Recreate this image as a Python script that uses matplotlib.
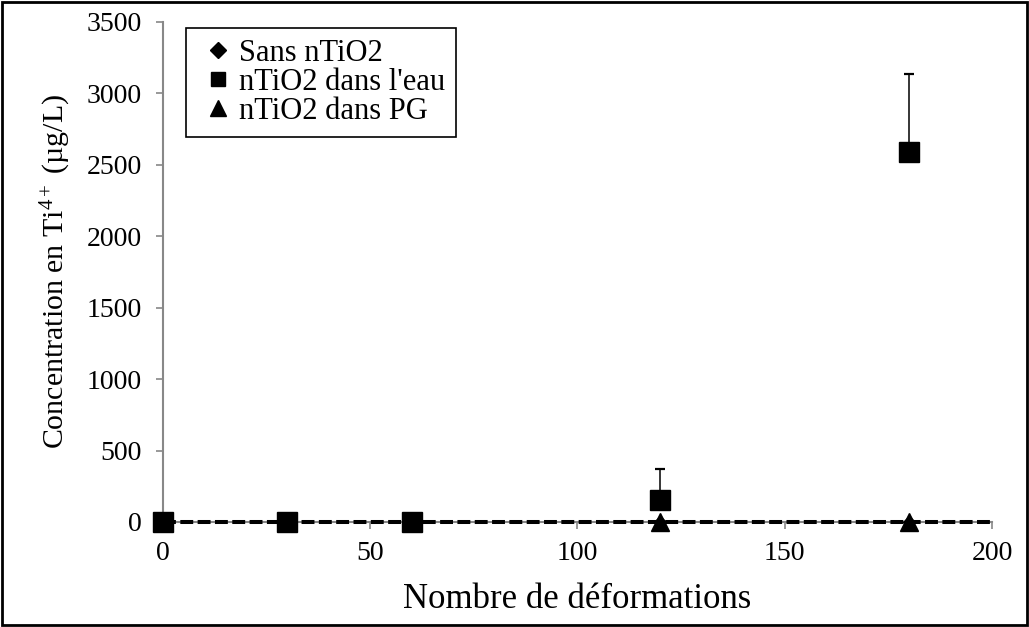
import matplotlib.pyplot as plt
from matplotlib.lines import Line2D
from matplotlib.patches import Rectangle

plt.rcParams['font.family'] = ['Liberation Serif', 'DejaVu Serif']
plt.rcParams['mathtext.fontset'] = 'custom'
plt.rcParams['mathtext.rm'] = 'Liberation Serif'
plt.rcParams['mathtext.it'] = 'Liberation Serif:italic'

# data
deformations = [0, 30, 60, 120, 180]
sans_tio2 = [0, 0, 0, 0, 0]
tio2_eau = [0, 0, 0, 155, 2590]
tio2_eau_err = [0, 0, 0, 215, 545]
tio2_pg = [0, 0, 0, 0, 0]
limit_x = [0, 200]
limit_y = [0, 0]
labels = ['Sans nTiO2', "nTiO2 dans l'eau", 'nTiO2 dans PG']

fig = plt.figure(figsize=(10.29, 6.27), dpi=100)
ax = fig.add_axes([0.1584, 0.1675, 0.8056, 0.7975])

ax.plot(limit_x, limit_y, color='black', lw=2.9, ls=(0, (3.2, 1.1)),
        zorder=3, clip_on=False)

ax.plot(deformations, sans_tio2, 'D', color='black', ms=6, ls='none',
        zorder=4, clip_on=False)
ax.errorbar(deformations, tio2_eau,
            yerr=[[0] * len(tio2_eau_err), tio2_eau_err],
            fmt='none', ecolor='black', elinewidth=1.1,
            capsize=3.3, capthick=1.6, zorder=5)
ax.plot(deformations, tio2_eau, 's', color='black', ms=14, ls='none',
        zorder=6, clip_on=False)
ax.plot(deformations, tio2_pg, '^', color='black', ms=13.5, ls='none',
        zorder=5, clip_on=False)

ax.set_xlim(0, 200)
ax.set_ylim(0, 3500)
ax.set_xticks([0, 50, 100, 150, 200])
ax.set_yticks(range(0, 3501, 500))
ax.tick_params(labelsize=20, color='#888888', length=5, width=1.2)
ax.tick_params(axis='x', pad=9)
ax.tick_params(axis='y', pad=10)
for s in ['top', 'right']:
    ax.spines[s].set_visible(False)
for s in ['left', 'bottom']:
    ax.spines[s].set_color('#888888')
    ax.spines[s].set_linewidth(1.5)

ax.set_xlabel('Nombre de déformations', fontsize=25, labelpad=12)
ax.set_ylabel('Concentration en Ti$^{4+}$ (µg/L)', fontsize=21.5, labelpad=10)

handles = [Line2D([], [], marker='D', color='black', ls='none', ms=8),
           Line2D([], [], marker='s', color='black', ls='none', ms=10.5),
           Line2D([], [], marker='^', color='black', ls='none', ms=11)]
leg = ax.legend(handles, labels, loc='upper left',
                bbox_to_anchor=(0.0277, 0.988), borderaxespad=0,
                fontsize=22, fancybox=False, framealpha=1,
                edgecolor='black', handlelength=1.37, handletextpad=0.0,
                borderpad=0.36, labelspacing=0.0)
leg.get_frame().set_linewidth(1.2)

fig.patches.append(Rectangle((0.002, 0.003), 0.996, 0.994, transform=fig.transFigure,
                             fill=False, edgecolor='black', lw=2))

fig.savefig('out.png', dpi=100)
